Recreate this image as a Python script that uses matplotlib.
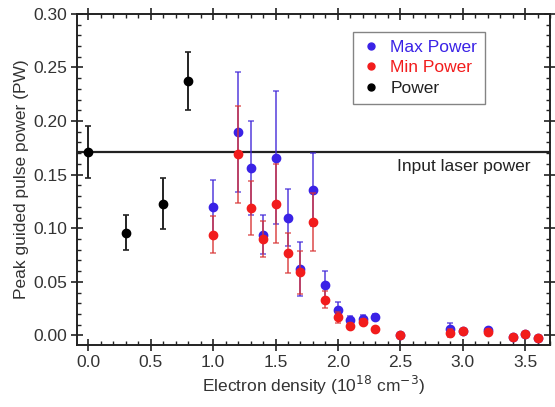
import matplotlib
matplotlib.use("Agg")
import matplotlib.pyplot as plt
from matplotlib.ticker import MultipleLocator
from matplotlib.lines import Line2D

plt.rcParams['font.family'] = ['Liberation Sans', 'DejaVu Sans']

# black "Power" points
p_x = [0.0, 0.3, 0.6, 0.8]
p_y = [0.171, 0.096, 0.123, 0.237]
p_err = [0.024, 0.016, 0.024, 0.027]

# shared densities for max / min power
d_x = [1.0, 1.2, 1.3, 1.4, 1.5, 1.6, 1.7, 1.8, 1.9, 2.0, 2.1, 2.2, 2.3,
       2.5, 2.9, 3.0, 3.2, 3.4, 3.5, 3.6]
max_y = [0.120, 0.190, 0.156, 0.094, 0.166, 0.110, 0.062, 0.136, 0.0475, 0.024,
         0.0143, 0.015, 0.017, 0.0, 0.006, 0.0045, 0.005, -0.001, 0.0015, -0.002]
max_err = [0.025, 0.056, 0.044, 0.018, 0.062, 0.027, 0.025, 0.034, 0.013, 0.007,
           0.004, 0.004, 0.003, 0.0, 0.006, 0.002, 0.002, 0.001, 0.001, 0.001]
min_y = [0.094, 0.169, 0.119, 0.090, 0.123, 0.077, 0.059, 0.106, 0.0335, 0.017,
         0.009, 0.0124, 0.0056, 0.0, 0.0025, 0.004, 0.0037, -0.0015, 0.001, -0.002]
min_err = [0.017, 0.045, 0.025, 0.017, 0.037, 0.019, 0.020, 0.027, 0.008, 0.005,
           0.003, 0.003, 0.002, 0.0, 0.004, 0.002, 0.002, 0.001, 0.001, 0.001]

input_power = 0.171

blue = '#3a22e6'
red = '#f21c1c'

fig = plt.figure(figsize=(5.55, 4.07), dpi=100)
ax = fig.add_axes([0.139, 0.152, 0.852, 0.814])

ax.axhline(input_power, color='#222222', linewidth=1.6, zorder=1)

ax.errorbar(d_x, max_y, yerr=max_err, fmt='o', color=blue, ms=6,
            ecolor=(0.25, 0.15, 0.85, 0.7), elinewidth=1.4, capsize=2, capthick=1.2,
            zorder=3)
ax.errorbar(d_x, min_y, yerr=min_err, fmt='o', color=red, ms=6,
            ecolor=(0.85, 0.2, 0.2, 0.7), elinewidth=1.4, capsize=2, capthick=1.2,
            zorder=4)
ax.errorbar(p_x, p_y, yerr=p_err, fmt='o', color='black', ms=6,
            ecolor='#222222', elinewidth=1.4, capsize=2, capthick=1.2,
            zorder=5)

ax.text(2.47, 0.158, 'Input laser power', fontsize=12.5, color='#222222',
        ha='left', va='center')

ax.set_xlim(-0.09, 3.70)
ax.set_ylim(-0.009, 0.30)
ax.xaxis.set_major_locator(MultipleLocator(0.5))
ax.xaxis.set_minor_locator(MultipleLocator(0.1))
ax.yaxis.set_major_locator(MultipleLocator(0.05))
ax.yaxis.set_minor_locator(MultipleLocator(0.01))
ax.xaxis.set_major_formatter(plt.FuncFormatter(lambda v, p: f"{v:.1f}"))
ax.yaxis.set_major_formatter(plt.FuncFormatter(lambda v, p: f"{v:.2f}"))
ax.tick_params(which='major', direction='inout', length=8, width=1.2,
               top=True, right=True, labelsize=12.5, colors='#222222',
               labelcolor='#333333', pad=3)
ax.tick_params(which='minor', direction='in', length=3, width=1.0,
               top=True, right=True, colors='#222222')
for s in ax.spines.values():
    s.set_linewidth(1.4)
    s.set_color('#222222')

ax.set_xlabel('Electron density (10$^{18}$ cm$^{-3}$)', fontsize=12.5,
              color='#333333', labelpad=3)
ax.set_ylabel('Peak guided pulse power (PW)', fontsize=12.5, color='#333333',
              labelpad=3)

handles = [Line2D([], [], ls='none', marker='o', ms=5, color=c)
           for c in [blue, red, 'black']]
leg = ax.legend(handles, ['Max Power', 'Min Power', 'Power'],
                loc='upper left', bbox_to_anchor=(0.583, 0.945), fontsize=12.5,
                frameon=True, fancybox=False, edgecolor='#666666',
                handletextpad=0.5, borderpad=0.45, labelspacing=0.3,
                handlelength=1.2, borderaxespad=0)
leg.get_frame().set_linewidth(1.0)
for txt, c in zip(leg.get_texts(), [blue, red, '#222222']):
    txt.set_color(c)

fig.savefig('out.png', dpi=100)
